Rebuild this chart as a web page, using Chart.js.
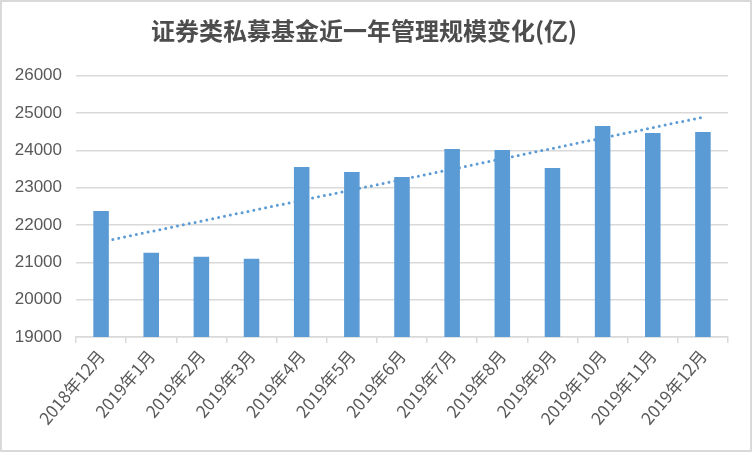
<!DOCTYPE html>
<html>
<head>
<meta charset="utf-8">
<script src="https://cdn.jsdelivr.net/npm/chart.js@4.4.1/dist/chart.umd.min.js"></script>
<style>
    body { margin: 0; background: #fff; }
    #wrap { position: relative; width: 752px; height: 452px; }
    #frame { position: absolute; left: 0; top: 0; width: 752px; height: 452px; box-sizing: border-box; border: 2px solid #d9d9d9; pointer-events: none; }
</style>
</head>
<body>
<div id="wrap">
    <canvas id="dataChart" width="752" height="452"></canvas>
    <div id="frame"></div>
</div>
<script>
// Données
const categories = ["2018年12月", "2019年1月", "2019年2月", "2019年3月", "2019年4月", "2019年5月", "2019年6月",
    "2019年7月", "2019年8月", "2019年9月", "2019年10月", "2019年11月", "2019年12月"];
const scaleValues = [22380, 21255, 21148, 21094, 23557, 23423, 23290, 24038, 24012, 23530, 24654, 24467, 24494];
// Ligne de tendance : seulement les deux extrémités
const trendValues = [21550, null, null, null, null, null, null, null, null, null, null, null, 24890];
const yMin = 19000;
const yMax = 26000;
const yStep = 1000;

const gray = "#595959";
const gridColor = "#d9d9d9";
const blue = "#5B9BD5";

const ctx = document.getElementById("dataChart").getContext("2d");

new Chart(ctx, {
    type: "bar",
    data: {
        labels: categories,
        datasets: [{
            type: "bar",
            label: "管理规模",
            data: scaleValues,
            backgroundColor: blue,
            categoryPercentage: 1,
            barPercentage: 0.31,
            order: 1
        }, {
            type: "line",
            label: "趋势",
            data: trendValues,
            spanGaps: true,
            borderColor: blue,
            borderWidth: 3,
            borderDash: [0, 6],
            borderCapStyle: "round",
            pointRadius: 0,
            fill: false,
            order: 2
        }]
    },
    options: {
        responsive: false,
        animation: false,
        layout: { padding: { left: 0, right: 24, top: 0, bottom: 0 } },
        plugins: {
            legend: { display: false },
            tooltip: { enabled: false },
            title: {
                display: true,
                text: "证券类私募基金近一年管理规模变化(亿)",
                color: "#4d4d4d",
                font: { family: "Noto Sans CJK SC", size: 24, weight: "600" },
                padding: { top: 16, bottom: 31 }
            }
        },
        scales: {
            x: {
                grid: {
                    offset: true,
                    drawOnChartArea: false,
                    drawTicks: true,
                    tickLength: 6,
                    color: gridColor,
                    lineWidth: 1.5
                },
                border: { color: gridColor, width: 1.5 },
                ticks: {
                    color: gray,
                    font: { family: "Noto Sans CJK SC", size: 17 },
                    minRotation: 50,
                    maxRotation: 50,
                    autoSkip: false,
                    padding: 3
                },
                afterFit: (scale) => {
                    scale.height = 115;
                    scale.paddingLeft = 0;
                    scale.paddingRight = 0;
                }
            },
            y: {
                min: yMin,
                max: yMax,
                grid: { color: gridColor, lineWidth: 1.5, drawTicks: false },
                border: { display: false },
                ticks: {
                    stepSize: yStep,
                    color: gray,
                    font: { family: "Liberation Sans", size: 17 },
                    padding: 14,
                    callback: (value) => String(value)
                },
                afterFit: (scale) => {
                    scale.width = 76;
                    scale.paddingTop = 0;
                    scale.paddingBottom = 0;
                }
            }
        }
    }
});
</script>
</body>
</html>
